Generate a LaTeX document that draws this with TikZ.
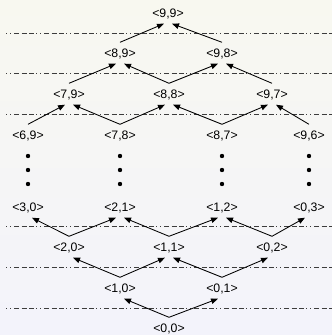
\documentclass[tikz,border=0pt]{standalone}
\usepackage{fontspec}
\setmainfont{Liberation Sans}
\usetikzlibrary{arrows.meta}
\definecolor{bgtop}{RGB}{248,248,240}
\definecolor{bgbot}{RGB}{243,243,251}
\definecolor{sepgray}{RGB}{60,60,60}
\begin{document}
\begin{tikzpicture}[x=1pt,y=-1pt,
  lbl/.style={font=\fontsize{12.3}{14}\selectfont, inner sep=0pt, text height=8.8pt, text depth=0pt, minimum height=21pt},
  arr/.style={-{Triangle[length=7pt,width=5.5pt]}, line width=0.85pt},
  sepline/.style={draw=sepgray, line width=0.85pt, dash pattern=on 1pt off 3pt on 1pt off 3pt on 5pt off 2.5pt on 5pt off 2.5pt on 5pt off 2pt}]
\useasboundingbox (0,0) rectangle (332,335);
\shade[top color=bgtop, bottom color=bgbot] (0,0) rectangle (332,335);
% separator lines
\foreach \yy in {33,73,114,226,267,308}{\draw[sepline] (6,\yy) -- (332,\yy);}
% top half nodes
\node[lbl] (n99) at (168,13) {<9,9>};
\node[lbl] (n89) at (120,53) {<8,9>};
\node[lbl] (n98) at (222,53) {<9,8>};
\node[lbl] (n79) at (69,94) {<7,9>};
\node[lbl] (n88) at (169,94) {<8,8>};
\node[lbl] (n97) at (272,94) {<9,7>};
\node[lbl] (n69) at (28,135) {<6,9>};
\node[lbl] (n78) at (120,135) {<7,8>};
\node[lbl] (n87) at (222,135) {<8,7>};
\node[lbl] (n96) at (309,135) {<9,6>};
% dots
\foreach \xx in {28,120,222,309}{\foreach \yy in {156,170,184}{\fill (\xx,\yy) circle (2.2pt);}}
% bottom half nodes
\node[lbl] (n30) at (28,207) {<3,0>};
\node[lbl] (n21) at (120,207) {<2,1>};
\node[lbl] (n12) at (222,207) {<1,2>};
\node[lbl] (n03) at (309,207) {<0,3>};
\node[lbl] (n20) at (69,247) {<2,0>};
\node[lbl] (n11) at (169,247) {<1,1>};
\node[lbl] (n02) at (272,247) {<0,2>};
\node[lbl] (n10) at (120,288) {<1,0>};
\node[lbl] (n01) at (222,288) {<0,1>};
\node[lbl] (n00) at (169,328) {<0,0>};
% arrows top half
\draw[arr] (n89.north) -- ([xshift=-4pt]n99.south);
\draw[arr] (n98.north) -- ([xshift=4pt]n99.south);
\draw[arr] (n79.north) -- ([xshift=-4pt]n89.south);
\draw[arr] (n88.north) -- ([xshift=4pt]n89.south);
\draw[arr] (n88.north) -- ([xshift=-4pt]n98.south);
\draw[arr] (n97.north) -- ([xshift=4pt]n98.south);
\draw[arr] (n69.north) -- ([xshift=-4pt]n79.south);
\draw[arr] (n78.north) -- ([xshift=4pt]n79.south);
\draw[arr] (n78.north) -- ([xshift=-4pt]n88.south);
\draw[arr] (n87.north) -- ([xshift=4pt]n88.south);
\draw[arr] (n87.north) -- ([xshift=-4pt]n97.south);
\draw[arr] (n96.north) -- ([xshift=4pt]n97.south);
% arrows bottom half
\draw[arr] (n20.north) -- ([xshift=4pt]n30.south);
\draw[arr] (n20.north) -- ([xshift=-4pt]n21.south);
\draw[arr] (n11.north) -- ([xshift=4pt]n21.south);
\draw[arr] (n11.north) -- ([xshift=-4pt]n12.south);
\draw[arr] (n02.north) -- ([xshift=4pt]n12.south);
\draw[arr] (n02.north) -- ([xshift=-4pt]n03.south);
\draw[arr] (n10.north) -- ([xshift=4pt]n20.south);
\draw[arr] (n10.north) -- ([xshift=-4pt]n11.south);
\draw[arr] (n01.north) -- ([xshift=4pt]n11.south);
\draw[arr] (n01.north) -- ([xshift=-4pt]n02.south);
\draw[arr] (n00.north) -- ([xshift=4pt]n10.south);
\draw[arr] (n00.north) -- ([xshift=-4pt]n01.south);
\end{tikzpicture}
\end{document}
